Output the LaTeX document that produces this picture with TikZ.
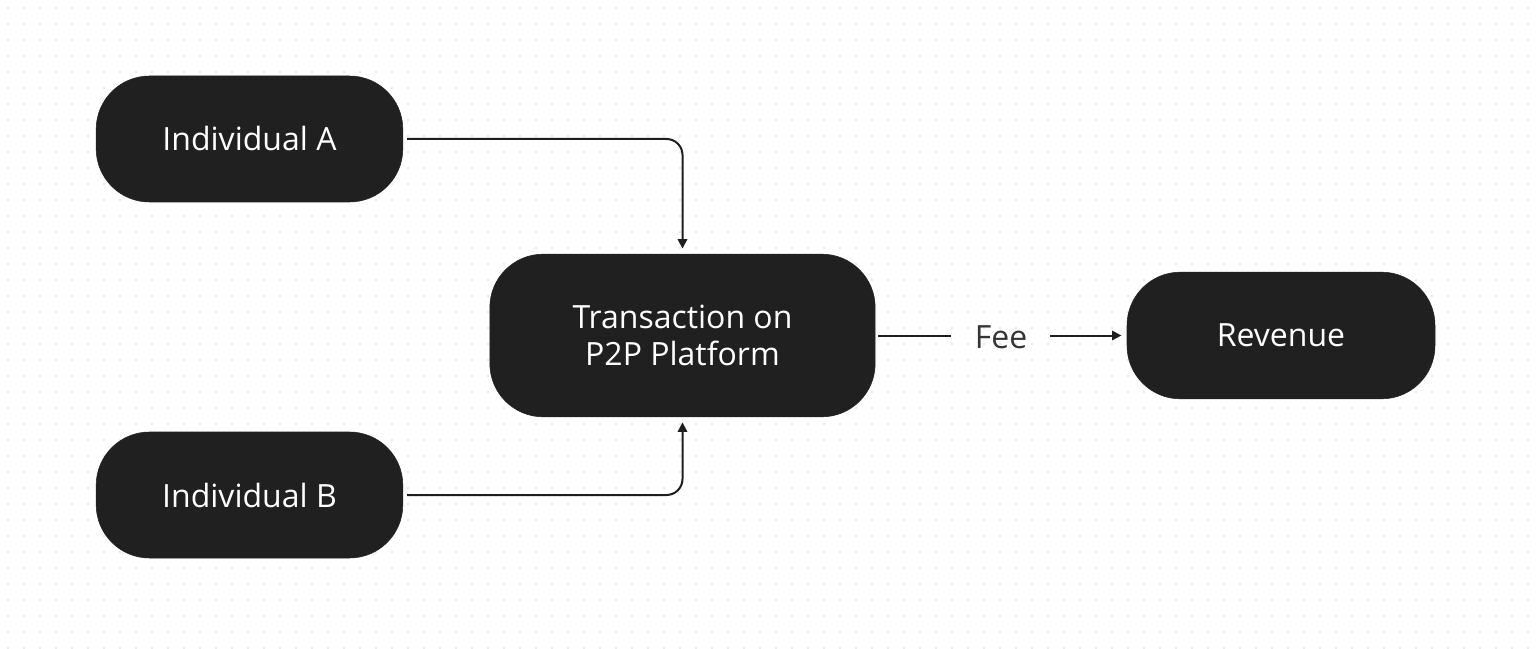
\documentclass[tikz,border=0pt]{standalone}
\usepackage{fontspec}
\setmainfont{Open Sans}
\usetikzlibrary{arrows.meta}
\definecolor{boxc}{HTML}{202020}
\definecolor{linec}{HTML}{1E1E1E}
\definecolor{dotc}{HTML}{E2E2E2}
\begin{document}
\begin{tikzpicture}[x=0.75pt,y=-0.75pt,
  pill/.style={fill=boxc,draw=boxc,rounded corners=40pt,text=white,font=\fontsize{24}{30}\selectfont,align=center,inner sep=0pt},
  conn/.style={draw=linec,line width=1.5pt,rounded corners=12pt,-{Triangle[length=7pt,width=7pt]}}]
\fill[white] (0,0) rectangle (1536,649);
\useasboundingbox (0,0) rectangle (1536,649);
\foreach \i in {0,...,95}{\foreach \j in {0,...,40}{\fill[dotc] (8+\i*16,8+\j*16) circle (0.8pt);}}
\node[pill,minimum width=230pt,minimum height=94.5pt] (a) at (249.5,139) {Individual A};
\node[pill,minimum width=230pt,minimum height=94.5pt] (b) at (249.5,495) {Individual B};
\node[pill,minimum width=289pt,minimum height=122pt] (t) at (682.5,335.5) {Transaction on\\[-2pt]P2P Platform};
\node[pill,minimum width=231pt,minimum height=95pt] (r) at (1281,335.5) {Revenue};
\node[font=\fontsize{24}{30}\selectfont,text=linec!90] (fee) at (1001,337) {Fee};
\draw[conn] ([xshift=3pt]a.east) -| ([yshift=4pt]t.north);
\draw[conn] ([xshift=3pt]b.east) -| ([yshift=-4pt]t.south);
\draw[draw=linec,line width=1.5pt] ([xshift=2pt]t.east) -- (951,335.5);
\draw[conn] (1050,335.5) -- ([xshift=-4pt]r.west);
\end{tikzpicture}
\end{document}
